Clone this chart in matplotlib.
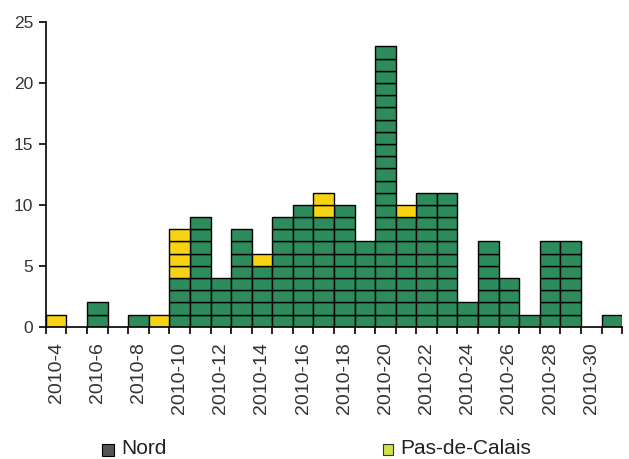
import numpy as np
import matplotlib.pyplot as plt
from matplotlib.patches import Rectangle

plt.rcParams['font.family'] = ['Liberation Sans', 'DejaVu Sans']

# semaines 2010-4 .. 2010-31
weeks = list(range(4, 32))
nord = [0, 0, 2, 0, 1, 0, 4, 9, 4, 8, 5, 9, 10, 9, 10, 7, 23, 9, 11, 11, 2, 7, 4, 1, 7, 7, 0, 1]
pas_de_calais = [1, 0, 0, 0, 0, 1, 4, 0, 0, 0, 1, 0, 0, 2, 0, 0, 0, 1, 0, 0, 0, 0, 0, 0, 0, 0, 0, 0]
labels = ['2010-%d' % w for w in weeks]

green = '#2e8b5c'
yellow = '#f7d313'

fig = plt.figure(figsize=(6.29, 4.59), dpi=100)
ax = fig.add_axes([0.073, 0.288, 0.916, 0.664])

x = np.arange(len(weeks))
nord = np.array(nord)
pas = np.array(pas_de_calais)

# une case par cas
for k in range(nord.max()):
    m = nord > k
    ax.bar(x[m], 1, bottom=k, width=1.0, color=green, edgecolor='black', linewidth=1.0)
for k in range(pas.max()):
    m = pas > k
    ax.bar(x[m], 1, bottom=nord[m] + k, width=1.0, color=yellow, edgecolor='black', linewidth=1.0)

ax.set_xlim(-0.5, len(weeks) - 0.5)
ax.set_ylim(0, 25)
ax.set_yticks(range(0, 26, 5))

ax.set_xticks(x[::2])
ax.set_xticklabels(labels[::2], rotation=90)
ax.set_xticks(np.arange(len(weeks) + 1) - 0.5, minor=True)
ax.tick_params(axis='x', which='major', length=0, pad=11, labelsize=14, labelcolor='#333333')
ax.tick_params(axis='x', which='minor', length=5, width=1.2, direction='out')
ax.tick_params(axis='y', length=5, width=1.2, labelsize=12.5, labelcolor='#333333', pad=4)

for s in ['top', 'right']:
    ax.spines[s].set_visible(False)
ax.spines['left'].set_linewidth(1.2)
ax.spines['bottom'].set_linewidth(1.2)

# légende
fig.add_artist(Rectangle((102 / 629, 1 - 456 / 459), 12 / 629, 12 / 459, transform=fig.transFigure,
                         facecolor='#555555', edgecolor='black', linewidth=0.8))
fig.text(121 / 629, 1 - 448 / 459, 'Nord', fontsize=15, va='center', ha='left', color='#222222')
fig.add_artist(Rectangle((383 / 629, 1 - 455 / 459), 10 / 629, 11 / 459, transform=fig.transFigure,
                         facecolor='#cfe04a', edgecolor='#333333', linewidth=0.8))
fig.text(400 / 629, 1 - 448 / 459, 'Pas-de-Calais', fontsize=15, va='center', ha='left', color='#222222')

fig.savefig('out.png', dpi=100)
